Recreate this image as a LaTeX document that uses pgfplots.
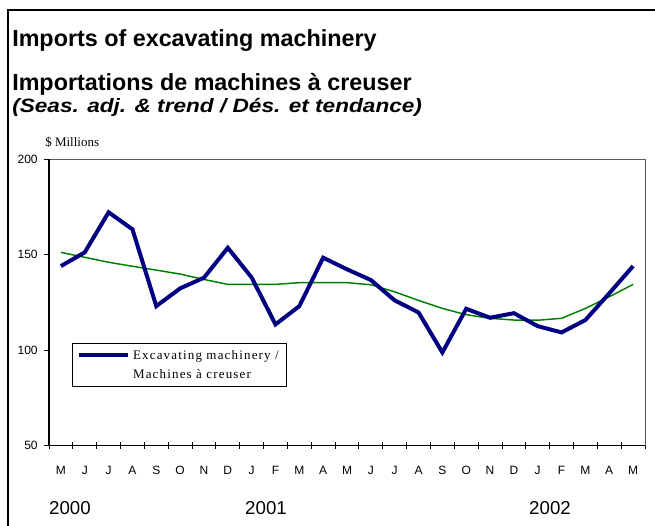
\documentclass[border=0pt]{standalone}
\usepackage{pgfplots}
\pgfplotsset{compat=1.18}
\usepackage{graphicx}
\usepackage{fontspec}
\setmainfont{Liberation Sans}
\newfontfamily\serif{Liberation Serif}
\newfontfamily\legendfont[LetterSpace=9]{Liberation Serif}
\definecolor{navyline}{RGB}{0,0,128}
\definecolor{trendgreen}{RGB}{0,128,0}

% month index, seasonally adjusted value, trend ($ millions)
\pgfplotstableread{
idx sa trend
0 144.0 151.2
1 151.2 148.6
2 172.2 146.0
3 163.3 143.9
4 123.0 141.9
5 132.3 139.8
6 137.9 137.0
7 153.6 134.4
8 138.0 134.4
9 113.4 134.4
10 123.0 135.3
11 148.4 135.3
12 142.3 135.3
13 136.7 134.2
14 126.0 130.5
15 119.7 126.0
16 98.7 121.8
17 121.6 118.5
18 116.9 116.6
19 119.3 115.7
20 112.5 115.6
21 109.2 116.6
22 115.7 121.8
23 129.7 127.9
24 144.0 134.4
}\datatable

\begin{document}
\begin{tikzpicture}
\path[use as bounding box] (0,0) rectangle ({655*0.75pt},{-525*0.75pt});
% outer frame
\draw[line width=0.8pt] ({8*0.75pt},{-530*0.75pt}) -- ({8*0.75pt},{-10*0.75pt}) -- ({660*0.75pt},{-10*0.75pt});

% titles
\node[anchor=base west, inner sep=0pt, font=\bfseries\fontsize{17.5}{20}\selectfont]
  at ({12*0.75pt},{-46*0.75pt}) {Imports of excavating machinery};
\node[anchor=base west, inner sep=0pt, font=\bfseries\fontsize{17.5}{20}\selectfont]
  at ({12*0.75pt},{-90*0.75pt}) {Importations de machines à creuser};
\node[anchor=base west, inner sep=0pt, font=\bfseries\itshape\fontsize{14.5}{17}\selectfont]
  at ({12*0.75pt},{-112*0.75pt}) {\scalebox{1.17}[1]{(Seas. adj. \& trend / Dés. et tendance)}};
\node[anchor=base west, inner sep=0pt, font=\serif\fontsize{9.75}{11}\selectfont]
  at ({45*0.75pt},{-146*0.75pt}) {\$ Millions};

% years
\node[anchor=base, inner sep=0pt, font=\fontsize{14}{16}\selectfont] at ({70*0.75pt},{-514*0.75pt}) {2000};
\node[anchor=base, inner sep=0pt, font=\fontsize{14}{16}\selectfont] at ({266*0.75pt},{-514*0.75pt}) {2001};
\node[anchor=base, inner sep=0pt, font=\fontsize{14}{16}\selectfont] at ({550*0.75pt},{-514*0.75pt}) {2002};

\begin{axis}[
  at={({49*0.75pt},{-445.3*0.75pt})}, anchor=south west,
  scale only axis,
  width=447pt, height=214.5pt,
  xmin=-0.5, xmax=24.5, ymin=50, ymax=200,
  ytick={50,100,150,200},
  xtick={0,...,24},
  xticklabels={M,J,J,A,S,O,N,D,J,F,M,A,M,J,J,A,S,O,N,D,J,F,M,A,M},
  minor xtick={-0.5,0.5,...,24.5},
  major x tick style={draw=none},
  minor tick length=5.25pt,
  major tick length=4pt,
  tick pos=left,
  xtick align=center,
  ytick align=outside,
  tick style={black, line width=0.7pt},
  axis line style={draw=black!65, line width=0.6pt},
  xticklabel style={font=\fontsize{9}{10}\selectfont, yshift=-10pt},
  yticklabel style={font=\fontsize{9}{10}\selectfont, xshift=-1pt},
  /pgf/number format/assume math mode=true,
  legend style={at={(0.038,0.358)}, anchor=north west, draw=black, line width=0.6pt,
    font=\legendfont\fontsize{9.75}{11}\selectfont, inner xsep=4pt, inner ysep=3pt,
    row sep=2pt, cells={anchor=west}},
  legend image code/.code={\draw[#1] (0pt,0pt) -- (36.75pt,0pt);},
  clip=false,
]
\addplot[trendgreen, line width=1.1pt, forget plot] table[x=idx, y=trend] {\datatable};
\addplot[navyline, line width=3pt, line join=miter] table[x=idx, y=sa] {\datatable};
\addlegendentry{Excavating machinery /}
\addlegendimage{empty legend}
\addlegendentry{Machines à creuser}
% heavier left and bottom axis lines
\draw[black, line width=1.2pt] (rel axis cs:0,1) -- (rel axis cs:0,0) -- (rel axis cs:1,0);
\end{axis}
\end{tikzpicture}
\end{document}
